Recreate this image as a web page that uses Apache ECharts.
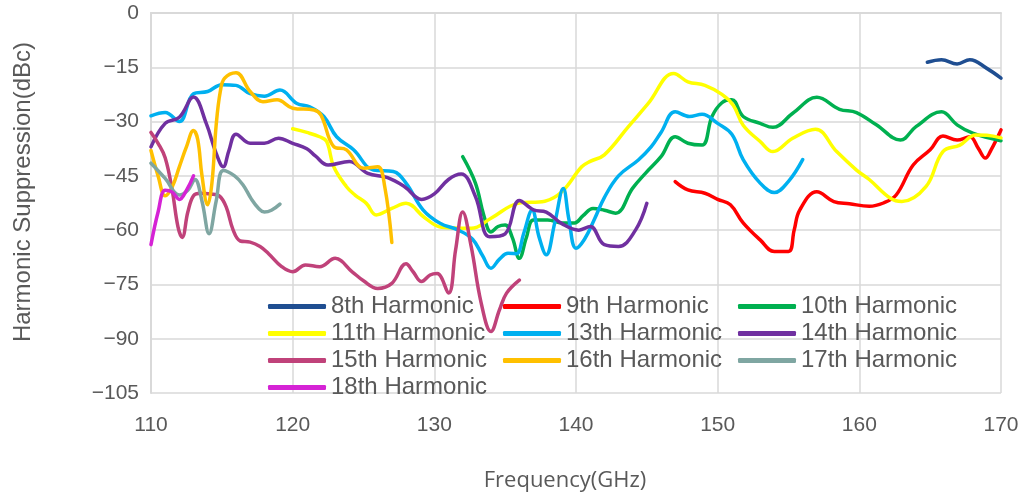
<!DOCTYPE html>
<html><head><meta charset="utf-8">
<script src="https://cdn.jsdelivr.net/npm/echarts@6/dist/echarts.min.js"></script>
<style>html,body{margin:0;padding:0;background:#fff}#c{width:1026px;height:500px}</style>
</head><body><div id="c"></div>
<script>
// ---- data (frequency GHz, suppression dBc) ----
const names = ['8th Harmonic','9th Harmonic','10th Harmonic','11th Harmonic','13th Harmonic','14th Harmonic','15th Harmonic','16th Harmonic','17th Harmonic','18th Harmonic'];
const colors = ['#1F4E91','#FF0000','#00B050','#FFFF00','#00B0F0','#7030A0','#C0427A','#FFC000','#7FA6A2','#D523D5'];

const h8 = [[164.8,-13.6],[165.8,-12.9],[166.9,-14.1],[167.8,-12.9],[169,-15.3],[170,-18]];
const h9 = [[147,-46.6],[147.9,-48.9],[149.1,-49.8],[150,-51.5],[150.9,-53],[151.8,-58],[153,-62.7],[154,-65.9],[155,-65.9],[155.4,-60],[155.8,-54.4],[157,-49.4],[158.2,-52.1],[159.3,-52.7],[160.7,-53.4],[161.7,-52.5],[162.6,-50.3],[163.8,-42],[165,-37.8],[165.9,-34],[166.9,-35.1],[167.8,-34.2],[168.4,-37.4],[168.9,-40.1],[169.3,-37.8],[170,-32.3]];
const h10 = [[132,-39.7],[132.9,-47],[133.5,-56],[134,-60.5],[134.5,-59],[135,-58.6],[135.5,-62],[136,-67.8],[136.5,-62],[137,-57.2],[138,-57.2],[139,-58],[139.9,-58],[140.5,-56],[141.2,-54],[142,-54.5],[142.8,-55.3],[144,-48.4],[144.9,-44.3],[146,-39.7],[147,-34.2],[147.9,-36],[148.9,-36.5],[149.6,-28.6],[150.3,-24.8],[151,-24],[151.8,-28.6],[153,-30.5],[153.9,-31.6],[155.3,-27.7],[157,-23.3],[158.6,-26.6],[159.8,-27.5],[161.2,-30.9],[162.9,-35.1],[164,-31.4],[165.8,-27.3],[166.9,-30.9],[168,-33.2],[170,-35.3]];
const h11 = [[120,-32],[121,-33],[121.9,-34.2],[122.4,-35.5],[122.9,-42.5],[123.8,-48],[124.4,-50.3],[125.2,-52.6],[125.9,-55.8],[127,-54],[128,-52.6],[129.3,-56.5],[130.5,-59.2],[132.6,-59.5],[134,-56.7],[135.9,-52.6],[137.8,-52],[139,-49.4],[140.4,-42.5],[141,-41],[142,-39.2],[143.7,-31.4],[145.1,-25],[146.9,-16.7],[147.9,-19],[149.1,-20],[150.3,-22.5],[151.1,-25.5],[151.8,-31],[153,-35.5],[153.9,-38.3],[155.3,-34.6],[156.9,-32.1],[158.4,-38.3],[159.8,-43.4],[160.7,-46],[162.2,-51.2],[163,-52.1],[164.7,-48],[165.9,-38.3],[167.1,-36.5],[168.2,-33.7],[169,-33.8],[170,-34.5]];
const h13 = [[110,-28.4],[111,-27.5],[112,-30],[113,-22.3],[114,-21.7],[115,-19.8],[116,-20],[117,-22.3],[118,-23],[119.1,-21.3],[120.3,-25],[121.2,-25.9],[122.2,-28.6],[123.1,-34.2],[124.3,-37.8],[125.7,-43.4],[127.1,-43.8],[128,-47],[129.2,-54.4],[130.4,-58.1],[131.7,-60],[132.7,-62.5],[133.4,-67],[134,-70.5],[134.6,-68],[135.2,-66.4],[135.8,-66.5],[136.3,-61],[136.9,-54.5],[137.4,-62],[137.9,-66.8],[138.5,-58],[139.1,-48.5],[139.5,-57],[140,-65],[140.6,-62.5],[141.3,-57],[142,-51],[143,-45],[144.4,-40.6],[145.3,-37],[146,-33],[147,-27.3],[148,-28.6],[148.9,-28],[150,-30.5],[151,-33.5],[151.8,-40.5],[153,-47],[154,-49.6],[155,-46.5],[156,-40.5]];
const h14 = [[110,-37],[111,-30.5],[112,-28.8],[113,-23.2],[113.9,-30.5],[114.6,-38.8],[115.1,-42.5],[115.5,-38],[116,-33.5],[117,-36],[118,-36],[119,-34.6],[120,-36],[121,-37.5],[121.6,-39.5],[122.5,-42],[124,-41],[125.3,-44.3],[126.7,-45.5],[127.9,-48],[129.1,-51.5],[130,-50],[131,-46],[131.9,-44.5],[132.9,-50.7],[133.9,-61.8],[135,-61],[136,-51.8],[137,-54.4],[137.9,-55],[139,-58.2],[140.2,-60],[141,-59],[142,-64],[143,-64.5],[144.2,-60],[145,-52.6]];
const h15 = [[110,-33],[110.5,-36],[111,-40],[111.5,-49],[111.9,-59],[112.2,-62],[112.6,-55],[113,-50.5],[113.5,-49.8],[114.2,-50],[114.8,-50.5],[115.3,-53.5],[115.8,-60],[116.3,-63],[117,-63.3],[117.7,-64.5],[118.3,-66.5],[119.2,-70],[120,-71.5],[120.9,-69.6],[121.9,-70.1],[123,-67.8],[124.2,-71.5],[125,-74],[126,-76.1],[127,-74.7],[128,-69.3],[128.5,-71.5],[129.1,-74.2],[129.7,-72.4],[130.2,-72],[131,-77.4],[131.5,-65.5],[132,-55],[132.6,-64.5],[133.3,-80],[134,-88],[134.6,-82],[135.1,-77.4],[136,-73.8]];
const h16 = [[110,-38],[110.5,-45],[111,-50.5],[111.5,-48],[112,-42.5],[112.5,-37],[113,-32.5],[113.3,-35],[113.6,-45],[114,-53],[114.3,-47],[114.6,-31],[114.9,-21.5],[115.2,-18],[116,-16.5],[117,-21.7],[117.9,-24.5],[118.9,-24],[120,-26.3],[121.5,-26.8],[122,-28.2],[122.9,-36.9],[123.8,-37.8],[125,-42.9],[126,-42.5],[126.5,-48],[127,-63.4]];
const h17 = [[110,-41.5],[111,-45.7],[112,-50.3],[112.6,-49],[113.1,-46],[113.6,-52],[114.1,-61],[114.6,-52],[115.1,-43.5],[115.9,-45],[116.5,-47.5],[117.1,-51.5],[117.6,-54],[118,-55],[118.5,-54.5],[119.1,-52.8]];
const h18 = [[110,-64],[110.5,-55],[111,-49],[111.5,-49.5],[112,-51.5],[112.5,-49],[113,-45]];
const seriesData = [h8,h9,h10,h11,h13,h14,h15,h16,h17,h18];

const yMin = -105, yMax = 0, yStep = 15;
const xMin = 110, xMax = 170, xStep = 10;

const chart = echarts.init(document.getElementById('c'));
const txt = '#595959';
const legendCommon = {
  orient: 'vertical', top: 293, padding: 0, itemGap: 0,
  icon: 'roundRect', itemWidth: 58, itemHeight: 5, selectedMode: false,
  textStyle: { fontSize: 24, color: txt, fontFamily: 'Liberation Sans', lineHeight: 27 }
};
chart.setOption({
  animation: false,
  backgroundColor: '#fff',
  grid: { left: 151, right: 25, top: 13, bottom: 107, containLabel: false, outerBoundsMode: 'none' },
  xAxis: {
    type: 'value', min: xMin, max: xMax, interval: xStep,
    axisLine: { show: true, lineStyle: { color: '#D9D9D9', width: 2 } },
    axisTick: { show: false },
    axisLabel: { fontSize: 21, color: txt, fontFamily: 'Liberation Sans', margin: 22 },
    splitLine: { show: true, lineStyle: { color: '#D9D9D9', width: 1.5 } }
  },
  yAxis: {
    type: 'value', min: yMin, max: yMax, interval: yStep,
    axisLine: { show: true, lineStyle: { color: '#D9D9D9', width: 2 } },
    axisTick: { show: false },
    axisLabel: { fontSize: 21, color: txt, fontFamily: 'Liberation Sans', margin: 12,
      formatter: v => v < 0 ? '\u2212' + (-v) : String(v) },
    splitLine: { show: true, lineStyle: { color: '#D9D9D9', width: 1.5 } }
  },
  legend: [
    Object.assign({ left: 268, data: ['8th Harmonic','11th Harmonic','15th Harmonic','18th Harmonic'] }, legendCommon),
    Object.assign({ left: 503, data: ['9th Harmonic','13th Harmonic','16th Harmonic'] }, legendCommon),
    Object.assign({ left: 738, data: ['10th Harmonic','14th Harmonic','17th Harmonic'] }, legendCommon)
  ],
  graphic: [
    { type: 'text', x: 23, y: 192, rotation: Math.PI / 2,
      style: { text: 'Harmonic Suppression(dBc)', fontSize: 24, fontFamily: 'Liberation Sans', fill: txt, align: 'center', verticalAlign: 'middle' } },
    { type: 'text', x: 565, y: 481,
      style: { text: 'Frequency(GHz)', fontSize: 22, fontFamily: 'Open Sans', fill: txt, align: 'center', verticalAlign: 'middle' } }
  ],
  series: names.map((n, i) => ({
    name: n, type: 'line', data: seriesData[i], smooth: 0.4,
    showSymbol: false, symbol: 'none',
    color: colors[i],
    lineStyle: { width: 3.5, color: colors[i], cap: 'round', join: 'round' },
    itemStyle: { color: colors[i] }
  }))
});
</script></body></html>
